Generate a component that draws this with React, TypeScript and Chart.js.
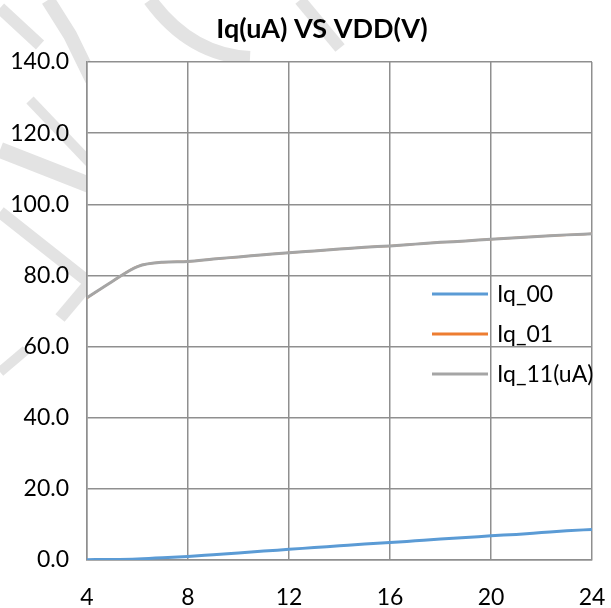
import React, { useEffect, useRef } from "react";
import { Chart, registerables } from "chart.js";

Chart.register(...registerables);

// Supply voltage (V)
const vdd = [4, 5, 6, 7, 8, 9, 10, 11, 12, 13, 14, 15, 16, 17, 18, 19, 20, 21, 22, 23, 24];
// Quiescent current (uA) per mode
const iq00 = [0.1, 0.15, 0.3, 0.6, 1.0, 1.5, 2.0, 2.5, 3.0, 3.5, 4.0, 4.5, 4.9, 5.4, 5.9, 6.3, 6.8, 7.2, 7.7, 8.2, 8.6];
const iq01 = [73.7, 78.3, 82.5, 83.7, 83.9, 84.6, 85.2, 85.8, 86.4, 86.9, 87.4, 87.9, 88.3, 88.8, 89.3, 89.7, 90.2, 90.6, 91.0, 91.4, 91.7];
const iq11 = [73.7, 78.3, 82.5, 83.7, 83.9, 84.6, 85.2, 85.8, 86.4, 86.9, 87.4, 87.9, 88.3, 88.8, 89.3, 89.7, 90.2, 90.6, 91.0, 91.4, 91.7];

const seriesNames = ["Iq_00", "Iq_01", "Iq_11(uA)"];
const seriesColors = ["#5B9BD5", "#ED7D31", "#A5A5A5"];
const seriesWidths = [3, 2, 3];
const chartTitle = "Iq(uA) VS VDD(V)";

const FONT = "Lato, 'Open Sans', sans-serif";

const toPoints = (ys: number[]) => vdd.map((x, i) => ({ x, y: ys[i] }));

// Faint background strokes behind the chart, outside the white plot area
const backdropPlugin = {
  id: "backdrop",
  beforeDraw(chart: any) {
    const { ctx, chartArea } = chart;
    ctx.save();
    ctx.fillStyle = "#ffffff";
    ctx.fillRect(0, 0, chart.width, chart.height);
    ctx.strokeStyle = "#e3e3e3";
    ctx.lineCap = "butt";
    const stroke = (w: number, pts: number[][]) => {
      ctx.lineWidth = w;
      ctx.beginPath();
      ctx.moveTo(pts[0][0], pts[0][1]);
      for (let i = 1; i < pts.length; i++) ctx.lineTo(pts[i][0], pts[i][1]);
      ctx.stroke();
    };
    stroke(12, [[0, 8], [40, 45]]);
    stroke(14, [[48, 0], [70, 35], [92, 80]]);
    stroke(10, [[30, 100], [92, 165]]);
    stroke(16, [[0, 150], [92, 186]]);
    stroke(12, [[0, 212], [86, 280]]);
    stroke(12, [[92, 280], [60, 318]]);
    stroke(10, [[0, 372], [26, 350]]);
    ctx.beginPath();
    ctx.lineWidth = 14;
    ctx.moveTo(150, 0);
    ctx.quadraticCurveTo(190, 55, 250, 58);
    ctx.stroke();
    stroke(12, [[300, 0], [340, 48]]);
    // plot area is filled white
    ctx.fillStyle = "#ffffff";
    ctx.fillRect(chartArea.left, chartArea.top, chartArea.right - chartArea.left, chartArea.bottom - chartArea.top);
    ctx.restore();
  },
};

// Title and in-plot legend
const labelsPlugin = {
  id: "labels",
  afterDraw(chart: any) {
    const { ctx } = chart;
    ctx.save();
    ctx.fillStyle = "#000000";
    ctx.font = `bold 27px ${FONT}`;
    ctx.textAlign = "center";
    ctx.textBaseline = "middle";
    ctx.fillText(chartTitle, 322, 29);

    ctx.font = `23px ${FONT}`;
    ctx.textAlign = "left";
    const rowY = [294, 334, 374];
    seriesNames.forEach((name, i) => {
      ctx.strokeStyle = seriesColors[i];
      ctx.lineWidth = 3;
      ctx.beginPath();
      ctx.moveTo(432, rowY[i]);
      ctx.lineTo(488, rowY[i]);
      ctx.stroke();
      ctx.fillStyle = "#000000";
      ctx.fillText(name, 497, rowY[i] + 1);
    });
    ctx.restore();
  },
};

export default function App() {
  const canvasRef = useRef<HTMLCanvasElement | null>(null);

  useEffect(() => {
    if (!canvasRef.current) return;
    const datasets = [iq00, iq01, iq11].map((ys, i) => ({
      label: seriesNames[i],
      data: toPoints(ys),
      borderColor: seriesColors[i],
      backgroundColor: seriesColors[i],
      borderWidth: seriesWidths[i],
      pointRadius: 0,
      cubicInterpolationMode: "monotone" as const,
      fill: false,
      order: 2 - i,
    }));

    const chart = new Chart(canvasRef.current, {
      type: "line",
      data: { datasets },
      options: {
        animation: false,
        responsive: false,
        devicePixelRatio: 1,
        layout: { padding: { top: 62, right: 0, left: 0, bottom: 0 } },
        plugins: {
          legend: { display: false },
          title: { display: false },
          tooltip: { enabled: false },
        },
        scales: {
          x: {
            type: "linear",
            min: 4,
            max: 24,
            afterFit: (scale: any) => {
              scale.height = 48;
              scale.paddingLeft = 0;
              scale.paddingRight = 19;
            },
            ticks: {
              stepSize: 4,
              padding: 24,
              color: "#000000",
              font: { family: FONT, size: 23 },
              maxRotation: 0,
            },
            grid: { color: "#8f8f8f", lineWidth: 1.5, drawTicks: false },
            border: { color: "#8f8f8f", width: 1.5 },
          },
          y: {
            min: 0,
            max: 140,
            afterFit: (scale: any) => {
              scale.width = 87;
            },
            ticks: {
              stepSize: 20,
              padding: 18,
              color: "#000000",
              font: { family: FONT, size: 23 },
              callback: (v: any) => Number(v).toFixed(1),
            },
            grid: { color: "#8f8f8f", lineWidth: 1.5, drawTicks: false },
            border: { color: "#8f8f8f", width: 1.5 },
          },
        },
      },
      plugins: [backdropPlugin, labelsPlugin],
    });
    return () => chart.destroy();
  }, []);

  return (
    <canvas
      ref={canvasRef}
      width={611}
      height={608}
      style={{ position: "fixed", left: 0, top: 0, width: 611, height: 608 }}
    />
  );
}
